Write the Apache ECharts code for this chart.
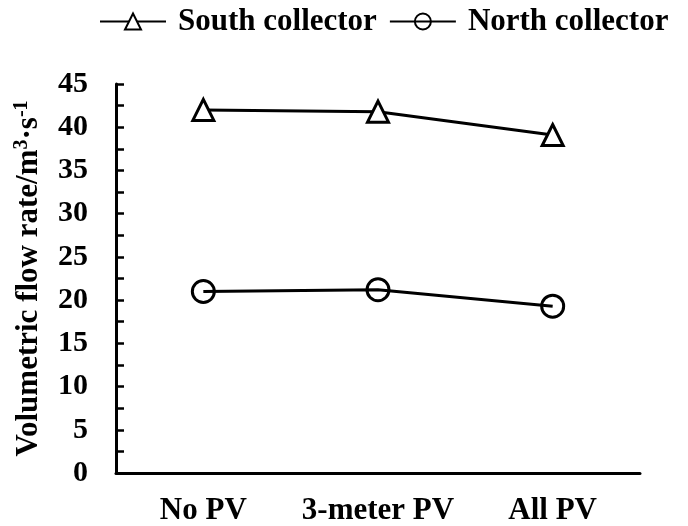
<!DOCTYPE html>
<html>
<head>
<meta charset="utf-8">
<script src="https://cdn.jsdelivr.net/npm/echarts@6/dist/echarts.min.js"></script>
<style>
  html, body { margin: 0; padding: 0; background: #fff; }
  #chart { width: 688px; height: 526px; }
</style>
</head>
<body>
<div id="chart"></div>
<script>
// 数据
var categories = ['No PV', '3-meter PV', 'All PV'];
var southValues = [42.0, 41.8, 39.1];
var northValues = [21.0, 21.2, 19.3];
var yTicks = [0, 45, 5];   // min, max, interval

var FONT = '"Liberation Serif", "Times New Roman", serif';

var myChart = echarts.init(document.getElementById('chart'));

var opt = {
    animation: false,
    legend: {
        left: 99,
        top: 6,
        padding: 0,
        itemWidth: 66,
        itemHeight: 20,
        itemGap: 12,
        textStyle: {
            fontFamily: FONT,
            fontWeight: 'bold',
            fontSize: 31,
            color: '#000',
            padding: [0, 0, 0, 7]
        },
        data: ['South collector', 'North collector']
    },
    grid: {
        left: 116,
        right: 48,
        top: 84,
        bottom: 51
    },
    xAxis: {
        type: 'category',
        data: categories,
        boundaryGap: true,
        axisLine: {lineStyle: {color: '#000', width: 3}},
        axisTick: {inside: true, length: 8, lineStyle: {color: '#000', width: 2.5}},
        axisLabel: {
            interval: 0,
            margin: 22,
            fontFamily: FONT,
            fontWeight: 'bold',
            fontSize: 31,
            color: '#000'
        },
        splitLine: {show: false}
    },
    yAxis: {
        type: 'value',
        min: yTicks[0],
        max: yTicks[1],
        interval: yTicks[2],
        name: 'Volumetric flow rate/m{sup|3}·s{sup|-1}',
        nameLocation: 'middle',
        nameGap: 70,
        nameTextStyle: {
            fontFamily: FONT,
            fontWeight: 'bold',
            fontSize: 31,
            color: '#000',
            rich: {
                sup: {
                    fontFamily: FONT,
                    fontWeight: 'bold',
                    fontSize: 20,
                    color: '#000',
                    verticalAlign: 'top',
                    padding: [0, 0, 14, 0]
                }
            }
        },
        axisLine: {show: true, onZero: false, lineStyle: {color: '#000', width: 3}},
        axisTick: {show: true, inside: true, length: 8, lineStyle: {color: '#000', width: 2.5}},
        minorTick: {show: true, splitNumber: 2, length: 8, lineStyle: {color: '#000', width: 2.5}},
        axisLabel: {
            margin: 28,
            fontFamily: FONT,
            fontWeight: 'bold',
            fontSize: 30,
            color: '#000'
        },
        splitLine: {show: false}
    },
    series: [{
        name: 'South collector',
        type: 'line',
        data: southValues,
        symbol: 'triangle',
        symbolSize: 21,
        lineStyle: {color: '#000', width: 3},
        itemStyle: {color: '#fff', borderColor: '#000', borderWidth: 3}
    }, {
        name: 'North collector',
        type: 'line',
        data: northValues,
        symbol: 'circle',
        symbolSize: 22,
        lineStyle: {color: '#000', width: 3},
        itemStyle: {color: 'rgba(255,255,255,0)', borderColor: '#000', borderWidth: 3}
    }]
};

myChart.setOption(opt);
</script>
</body>
</html>
